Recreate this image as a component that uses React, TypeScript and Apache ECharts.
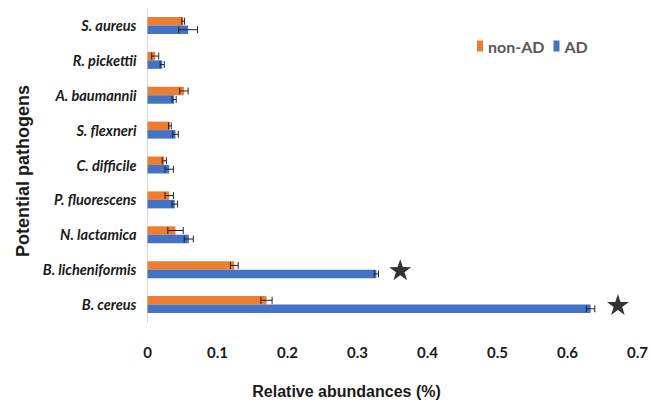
import React, { useEffect, useRef } from "react";
import * as echarts from "echarts";

const categories = [
  "S. aureus",
  "R. pickettii",
  "A. baumannii",
  "S. flexneri",
  "C. difficile",
  "P. fluorescens",
  "N. lactamica",
  "B. licheniformis",
  "B. cereus",
];
const nonAD = [0.051, 0.011, 0.052, 0.032, 0.024, 0.031, 0.040, 0.124, 0.170];
const nonADErr = [0.002, 0.005, 0.006, 0.002, 0.003, 0.006, 0.011, 0.0055, 0.008];
const AD = [0.058, 0.021, 0.038, 0.040, 0.031, 0.039, 0.059, 0.327, 0.633];
const ADErr = [0.0135, 0.003, 0.003, 0.004, 0.006, 0.004, 0.0065, 0.003, 0.006];
const starPoints: [number, string][] = [
  [0.361, "B. licheniformis"],
  [0.672, "B. cereus"],
];

const ORANGE = "#ED7D31";
const BLUE = "#4472C4";
const BAR_W = 8.5;

const STAR =
  "path://M12,0 L14.85,8.6 L24,8.8 L16.7,14.2 L19.4,23 L12,17.6 L4.6,23 L7.3,14.2 L0,8.8 L9.15,8.6 Z";

function errSeries(vals: number[], errs: number[], offset: number) {
  return {
    type: "custom",
    silent: true,
    z: 5,
    encode: { x: [1, 2], y: 0 },
    data: vals.map((v, i) => [i, v, errs[i]]),
    renderItem: (params: any, api: any) => {
      const idx = api.value(0);
      const v = api.value(1);
      const e = api.value(2);
      const lo = api.coord([v - e, idx]);
      const hi = api.coord([v + e, idx]);
      const y = lo[1] + offset;
      const h = 3.5;
      const style = { stroke: "#222", lineWidth: 1 };
      return {
        type: "group",
        children: [
          { type: "line", shape: { x1: lo[0], y1: y, x2: hi[0], y2: y }, style },
          { type: "line", shape: { x1: lo[0], y1: y - h, x2: lo[0], y2: y + h }, style },
          { type: "line", shape: { x1: hi[0], y1: y - h, x2: hi[0], y2: y + h }, style },
        ],
      };
    },
  };
}

export default function App() {
  const ref = useRef<HTMLDivElement>(null);
  useEffect(() => {
    const chart = echarts.init(ref.current!, null, { renderer: "svg" });
    chart.setOption({
      animation: false,
      backgroundColor: "#ffffff",
      legend: {
        data: [
          { name: "non-AD", itemStyle: { color: ORANGE } },
          { name: "AD", itemStyle: { color: BLUE } },
        ],
        left: 472,
        top: 33,
        itemWidth: 6,
        itemHeight: 11,
        itemGap: 9,
        icon: "rect",
        textStyle: { fontFamily: "Lato", fontSize: 16, color: "#595959", fontWeight: "bold" },
      },
      grid: { left: 147.5, right: 10, top: 8, bottom: 81, containLabel: false },
      xAxis: {
        type: "value",
        min: 0,
        max: 0.7,
        interval: 0.1,
        axisLine: { show: false },
        axisTick: { show: false },
        splitLine: { show: false },
        axisLabel: {
          margin: 22,
          fontFamily: "Lato",
          fontWeight: "bold",
          fontSize: 15,
          color: "#1a1a1a",
        },
        name: "Relative abundances (%)",
        nameLocation: "middle",
        nameGap: 61,
        nameTextStyle: {
          fontFamily: "Liberation Sans",
          fontWeight: "bold",
          fontSize: 16,
          color: "#1a1a1a",
          padding: [0, 0, 0, -92],
        },
      },
      yAxis: {
        type: "category",
        inverse: true,
        data: categories,
        axisLine: { show: true, lineStyle: { color: "#d9d9d9", width: 1 } },
        axisTick: { show: false },
        axisLabel: {
          margin: 11,
          fontFamily: "Lato",
          fontWeight: "bold",
          fontStyle: "italic",
          fontSize: 14.5,
          color: "#1a1a1a",
        },
        name: "Potential pathogens",
        nameLocation: "middle",
        nameGap: 116,
        nameTextStyle: {
          fontFamily: "Liberation Sans",
          fontWeight: "bold",
          fontSize: 18,
          color: "#1a1a1a",
          padding: [0, 0, 0, -12],
        },
      },
      series: [
        {
          name: "non-AD",
          type: "bar",
          data: nonAD,
          barWidth: BAR_W,
          barGap: "0%",
          itemStyle: { color: ORANGE },
        },
        {
          name: "AD",
          type: "bar",
          data: AD,
          barWidth: BAR_W,
          barGap: "0%",
          itemStyle: { color: BLUE },
        },
        errSeries(nonAD, nonADErr, -BAR_W / 2),
        errSeries(AD, ADErr, BAR_W / 2),
        {
          type: "scatter",
          data: starPoints,
          symbol: STAR,
          symbolSize: [22, 21],
          itemStyle: { color: "#000000" },
          z: 6,
          silent: true,
        },
      ],
    });
    return () => chart.dispose();
  }, []);
  return (
    <div
      ref={ref}
      style={{ position: "fixed", left: 0, top: 0, width: 651, height: 404, background: "#fff" }}
    />
  );
}
